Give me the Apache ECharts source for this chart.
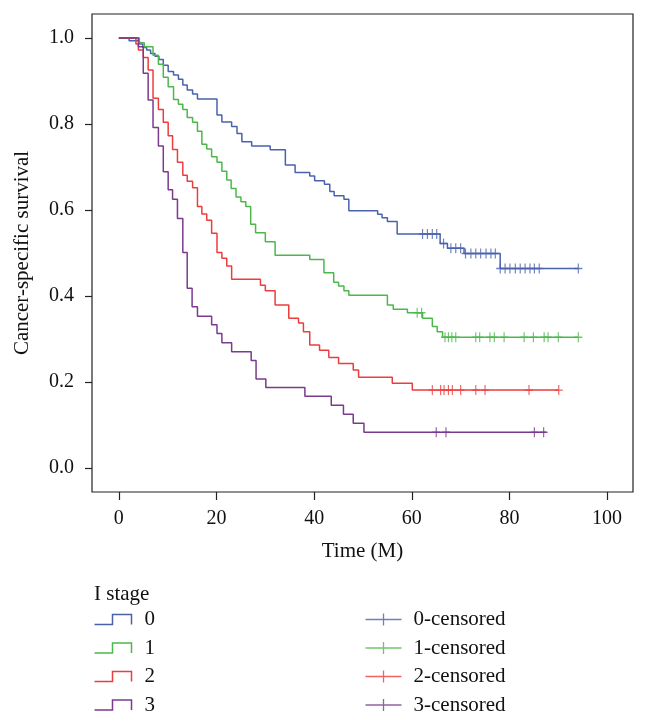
<!DOCTYPE html>
<html><head><meta charset="utf-8">
<script src="https://cdn.jsdelivr.net/npm/echarts@6/dist/echarts.min.js"></script>
<style>html,body{margin:0;padding:0;background:#fff}#c{width:648px;height:723px}</style>
</head><body><div id="c"></div>
<script>
const stageNames = ['0', '1', '2', '3'];
const censorNames = ['0-censored', '1-censored', '2-censored', '3-censored'];
const xTicks = [0, 20, 40, 60, 80, 100];
const yTicks = [0, 0.2, 0.4, 0.6, 0.8, 1.0];

const time0 = [0, 2.1, 4.2, 4.9, 5.7, 6.5, 7.4, 8.2, 9.1, 10.1, 11.2, 12.2, 13.1, 14.0, 15.1, 16.1, 20.1, 21.1, 23.1, 24.2, 25.2, 27.2, 31.0, 34.1, 36.1, 39.1, 40.1, 42.1, 43.2, 44.1, 46.1, 47.1, 53.0, 53.9, 55.0, 57.0, 65.8, 67.3, 70.7, 78.1];
const surv0 = [1, 0.994, 0.986, 0.978, 0.972, 0.964, 0.958, 0.950, 0.937, 0.922, 0.914, 0.904, 0.891, 0.879, 0.870, 0.858, 0.821, 0.805, 0.794, 0.778, 0.759, 0.749, 0.740, 0.705, 0.687, 0.679, 0.668, 0.660, 0.643, 0.633, 0.625, 0.598, 0.590, 0.582, 0.573, 0.544, 0.522, 0.511, 0.499, 0.464];
const end0 = 94.1;
const cens0 = [62.2, 63.2, 64.2, 65.1, 66.5, 68.0, 69.0, 70.0, 71.0, 72.1, 73.1, 74.1, 75.2, 76.2, 77.1, 78.1, 79.1, 80.1, 81.2, 82.2, 83.2, 84.2, 85.1, 86.1, 94.1];

const time1 = [0, 4.2, 5.2, 7.0, 8.1, 9.1, 10.1, 11.2, 12.2, 13.1, 14.0, 15.1, 16.1, 17.0, 18.0, 19.0, 20.1, 21.1, 22.1, 23.0, 24.0, 25.0, 26.0, 27.0, 28.0, 30.0, 32.0, 39.1, 42.0, 44.0, 45.0, 46.1, 47.1, 55.0, 56.2, 59.1, 62.2, 64.2, 65.2, 66.3];
const surv1 = [1, 0.989, 0.980, 0.960, 0.939, 0.909, 0.887, 0.857, 0.846, 0.834, 0.815, 0.804, 0.783, 0.753, 0.742, 0.724, 0.711, 0.690, 0.670, 0.650, 0.630, 0.619, 0.608, 0.567, 0.547, 0.526, 0.495, 0.485, 0.454, 0.432, 0.423, 0.412, 0.402, 0.379, 0.369, 0.361, 0.348, 0.329, 0.317, 0.304];
const end1 = 94.1;
const cens1 = [61.1, 62.0, 66.8, 67.5, 68.2, 69.0, 73.1, 73.9, 76.0, 76.9, 78.9, 83.0, 84.9, 87.1, 87.9, 90.0, 94.1];

const time2 = [0, 3.5, 4.0, 5.0, 6.0, 7.0, 8.1, 9.1, 10.1, 11.0, 12.0, 13.1, 14.0, 15.1, 16.1, 17.0, 18.0, 19.0, 20.1, 21.1, 22.1, 23.1, 29.0, 30.0, 32.0, 34.8, 36.8, 37.8, 39.1, 41.1, 43.0, 45.0, 48.0, 49.1, 56.0, 60.1];
const surv2 = [1, 0.986, 0.972, 0.955, 0.926, 0.860, 0.834, 0.804, 0.773, 0.741, 0.711, 0.681, 0.667, 0.652, 0.608, 0.591, 0.576, 0.546, 0.501, 0.488, 0.470, 0.439, 0.425, 0.412, 0.379, 0.348, 0.337, 0.317, 0.286, 0.274, 0.257, 0.243, 0.228, 0.211, 0.197, 0.181];
const end2 = 90.1;
const cens2 = [64.2, 65.9, 66.6, 67.5, 68.3, 70.0, 73.1, 75.0, 84.0, 90.1];

const time3 = [0, 4.0, 5.0, 6.0, 7.0, 8.1, 9.1, 10.1, 11.0, 12.0, 13.1, 14.0, 15.0, 16.1, 19.0, 20.1, 21.1, 23.1, 27.1, 28.1, 30.1, 38.1, 43.5, 46.0, 48.0, 50.2];
const surv3 = [1, 0.980, 0.918, 0.856, 0.792, 0.749, 0.689, 0.647, 0.625, 0.580, 0.501, 0.418, 0.375, 0.353, 0.333, 0.313, 0.291, 0.270, 0.250, 0.207, 0.187, 0.167, 0.146, 0.125, 0.104, 0.083];
const end3 = 87.5;
const cens3 = [65.0, 67.0, 85.1, 87.0];

const colors = ['#4a62ad', '#4cb84c', '#ec3d3d', '#7a3a8e'];
const FONT = 'Liberation Serif';

const groups = [
  [time0, surv0, end0, cens0],
  [time1, surv1, end1, cens1],
  [time2, surv2, end2, cens2],
  [time3, surv3, end3, cens3]
];

function survAt(times, surv, t) {
  let s = 1;
  for (let i = 0; i < times.length; i++) if (times[i] <= t) s = surv[i];
  return s;
}

const series = [];
groups.forEach(([tm, sv, end], i) => {
  const data = tm.map((t, j) => [t, sv[j]]);
  data.push([end, sv[sv.length - 1]]);
  series.push({
    name: stageNames[i], type: 'line', step: 'end', data: data,
    symbol: 'none', showSymbol: false, silent: true,
    lineStyle: { color: colors[i], width: 1.5 }, itemStyle: { color: colors[i] },
    z: 2 + i
  });
});
groups.forEach(([tm, sv, end, cs], i) => {
  series.push({
    name: censorNames[i], type: 'scatter',
    data: cs.map(t => [t, survAt(tm, sv, t)]),
    symbol: 'path://M5,0L5,10M0,5L10,5', symbolSize: [8, 10],
    itemStyle: { color: 'none', borderColor: colors[i], borderWidth: 1.3 },
    silent: true, z: 6 + i
  });
});

const legendText = { fontFamily: FONT, fontSize: 21, color: '#111', lineHeight: 20 };

const chart = echarts.init(document.getElementById('c'), null, { renderer: 'canvas' });
chart.setOption({
  animation: false,
  backgroundColor: '#fff',
  textStyle: { fontFamily: FONT },
  color: colors,
  title: {
    text: 'I stage', left: 89, top: 579,
    textStyle: { fontFamily: FONT, fontSize: 21, fontWeight: 'normal', color: '#111' }
  },
  legend: [
    {
      data: stageNames.map((n, i) => ({
        name: n,
        icon: 'path://M0,10L18,10L18,0L37,0L37,10',
        itemStyle: { color: 'none', borderColor: colors[i], borderWidth: 1.5 }
      })),
      orient: 'vertical', left: 92, top: 609, height: 130, padding: 0,
      itemWidth: 37, itemHeight: 11, itemGap: 7.5,
      textStyle: Object.assign({ padding: [0, 0, 0, 8] }, legendText),
      selectedMode: false
    },
    {
      data: censorNames.map((n, i) => ({
        name: n,
        icon: 'path://M0,6L36,6M18,0L18,12',
        itemStyle: { color: 'none', borderColor: colors[i], borderWidth: 1.3 }
      })),
      orient: 'vertical', left: 363, top: 609, height: 130, padding: 0,
      itemWidth: 36, itemHeight: 13, itemGap: 7.5,
      textStyle: Object.assign({ padding: [0, 0, 0, 7] }, legendText),
      selectedMode: false
    }
  ],
  grid: {
    left: 92, right: 15, top: 14, bottom: 231,
    show: true, borderColor: '#222', borderWidth: 1.2, backgroundColor: 'transparent'
  },
  xAxis: {
    type: 'value', min: -5.5, max: 105.3,
    name: 'Time (M)', nameLocation: 'middle', nameGap: 49,
    nameTextStyle: { fontFamily: FONT, fontSize: 21, color: '#111' },
    axisLine: { show: false, onZero: false },
    axisTick: { show: true, length: 8, customValues: xTicks, lineStyle: { color: '#222', width: 1.2 } },
    axisLabel: { customValues: xTicks, margin: 17, fontFamily: FONT, fontSize: 20, color: '#111' },
    splitLine: { show: false }
  },
  yAxis: {
    type: 'value', min: -0.056, max: 1.056,
    name: 'Cancer-specific survival', nameLocation: 'middle', nameGap: 59, nameRotate: 90,
    nameTextStyle: { fontFamily: FONT, fontSize: 21, color: '#111' },
    axisLine: { show: false, onZero: false },
    axisTick: { show: true, length: 7, customValues: yTicks, lineStyle: { color: '#222', width: 1.2 } },
    axisLabel: { customValues: yTicks, margin: 18, fontFamily: FONT, fontSize: 20, color: '#111',
      formatter: v => v.toFixed(1) },
    splitLine: { show: false }
  },
  series: series
});
</script></body></html>
